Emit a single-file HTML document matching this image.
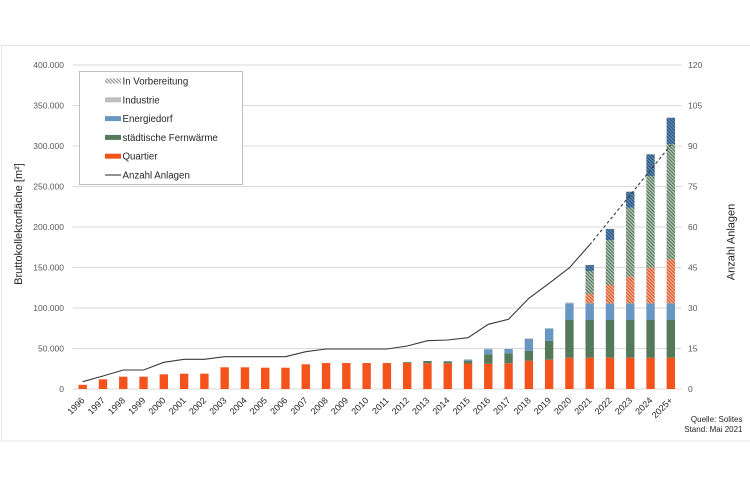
<!DOCTYPE html>
<html><head><meta charset="utf-8"><style>
html,body{margin:0;padding:0;background:#fff;}
svg{display:block;}
text{font-family:"Liberation Sans",Arial,sans-serif;}
</style></head><body>
<svg width="750" height="482" viewBox="0 0 750 482" xmlns="http://www.w3.org/2000/svg">
<defs>
<pattern id="hg" patternUnits="userSpaceOnUse" width="2.4" height="2.4" patternTransform="rotate(-45)">
<rect width="2.4" height="2.4" fill="#c3cfc4"/><rect width="1.3" height="2.4" fill="#557a5b"/></pattern>
<pattern id="hr" patternUnits="userSpaceOnUse" width="2.4" height="2.4" patternTransform="rotate(-45)">
<rect width="2.4" height="2.4" fill="#f0bda6"/><rect width="1.3" height="2.4" fill="#e0582a"/></pattern>
<pattern id="hb" patternUnits="userSpaceOnUse" width="2.4" height="2.4" patternTransform="rotate(-45)">
<rect width="2.4" height="2.4" fill="#7a9ec0"/><rect width="1.6" height="2.4" fill="#2f5a85"/></pattern>
<pattern id="hl" patternUnits="userSpaceOnUse" width="2.4" height="2.4" patternTransform="rotate(-45)">
<rect width="2.4" height="2.4" fill="#fff"/><rect width="1.1" height="2.4" fill="#8a8a8a"/></pattern>
</defs>
<rect x="0" y="0" width="750" height="482" fill="#fff"/>
<rect x="1.5" y="45.5" width="760" height="395.5" fill="none" stroke="#e6e6e6" stroke-width="1"/>
<!-- gridlines -->
<g stroke="#d9d9d9" stroke-width="1">
<line x1="72.5" y1="65" x2="682" y2="65"/>
<line x1="72.5" y1="105.5" x2="682" y2="105.5"/>
<line x1="72.5" y1="146" x2="682" y2="146"/>
<line x1="72.5" y1="186.5" x2="682" y2="186.5"/>
<line x1="72.5" y1="227" x2="682" y2="227"/>
<line x1="72.5" y1="267.5" x2="682" y2="267.5"/>
<line x1="72.5" y1="308" x2="682" y2="308"/>
<line x1="72.5" y1="348.5" x2="682" y2="348.5"/>
<line x1="72.5" y1="389" x2="682" y2="389"/>
</g>
<!-- left ticks -->
<g font-size="8.5" fill="#595959" text-anchor="end">
<text x="64" y="68">400.000</text>
<text x="64" y="108.5">350.000</text>
<text x="64" y="149">300.000</text>
<text x="64" y="189.5">250.000</text>
<text x="64" y="230">200.000</text>
<text x="64" y="270.5">150.000</text>
<text x="64" y="311">100.000</text>
<text x="64" y="351.5">50.000</text>
<text x="64" y="392">0</text>
</g>
<g font-size="8.5" fill="#595959" text-anchor="start">
<text x="688" y="68">120</text>
<text x="688" y="108.5">105</text>
<text x="688" y="149">90</text>
<text x="688" y="189.5">75</text>
<text x="688" y="230">60</text>
<text x="688" y="270.5">45</text>
<text x="688" y="311">30</text>
<text x="688" y="351.5">15</text>
<text x="688" y="392">0</text>
</g>
<!-- red bars -->
<g fill="#f4541c">
<rect x="78.5" y="384.8" width="8.4" height="4.2"/>
<rect x="98.78" y="379.3" width="8.4" height="9.7"/>
<rect x="119.06" y="376.7" width="8.4" height="12.3"/>
<rect x="139.34" y="376.7" width="8.4" height="12.3"/>
<rect x="159.62" y="374.3" width="8.4" height="14.7"/>
<rect x="179.9" y="373.7" width="8.4" height="15.3"/>
<rect x="200.18" y="373.7" width="8.4" height="15.3"/>
<rect x="220.46" y="367.3" width="8.4" height="21.7"/>
<rect x="240.74" y="367.3" width="8.4" height="21.7"/>
<rect x="261.02" y="367.7" width="8.4" height="21.3"/>
<rect x="281.3" y="367.7" width="8.4" height="21.3"/>
<rect x="301.58" y="364.3" width="8.4" height="24.7"/>
<rect x="321.86" y="363" width="8.4" height="26"/>
<rect x="342.14" y="363" width="8.4" height="26"/>
<rect x="362.42" y="363" width="8.4" height="26"/>
<rect x="382.7" y="363" width="8.4" height="26"/>
<rect x="402.98" y="363" width="8.4" height="26"/>
<rect x="423.26" y="363.3" width="8.4" height="25.7"/>
<rect x="443.54" y="363.3" width="8.4" height="25.7"/>
<rect x="463.82" y="363.5" width="8.4" height="25.5"/>
<rect x="484.1" y="363.7" width="8.4" height="25.3"/>
<rect x="504.38" y="363.3" width="8.4" height="25.7"/>
<rect x="524.66" y="360.7" width="8.4" height="28.3"/>
<rect x="544.94" y="359.7" width="8.4" height="29.3"/>
<rect x="565.22" y="357.7" width="8.4" height="31.3"/>
<rect x="585.5" y="357.7" width="8.4" height="31.3"/>
<rect x="605.78" y="357.7" width="8.4" height="31.3"/>
<rect x="626.06" y="357.7" width="8.4" height="31.3"/>
<rect x="646.34" y="357.7" width="8.4" height="31.3"/>
<rect x="666.62" y="357.7" width="8.4" height="31.3"/>
</g>
<!-- green bars -->
<g fill="#557a5b">
<rect x="402.98" y="362.2" width="8.4" height="0.8"/>
<rect x="423.26" y="361" width="8.4" height="2.3"/>
<rect x="443.54" y="361.7" width="8.4" height="1.6"/>
<rect x="463.82" y="360.7" width="8.4" height="2.8"/>
<rect x="484.1" y="354.3" width="8.4" height="9.4"/>
<rect x="504.38" y="353.3" width="8.4" height="10"/>
<rect x="524.66" y="350.7" width="8.4" height="10"/>
<rect x="544.94" y="340.7" width="8.4" height="19"/>
<rect x="565.22" y="320" width="8.4" height="37.7"/>
<rect x="585.5" y="320" width="8.4" height="37.7"/>
<rect x="605.78" y="320" width="8.4" height="37.7"/>
<rect x="626.06" y="320" width="8.4" height="37.7"/>
<rect x="646.34" y="320" width="8.4" height="37.7"/>
<rect x="666.62" y="320" width="8.4" height="37.7"/>
</g>
<!-- blue bars -->
<g fill="#6898c2">
<rect x="443.54" y="361" width="8.4" height="0.7"/>
<rect x="463.82" y="359.5" width="8.4" height="1.2"/>
<rect x="484.1" y="349.3" width="8.4" height="5"/>
<rect x="504.38" y="349" width="8.4" height="4.3"/>
<rect x="524.66" y="339" width="8.4" height="11.7"/>
<rect x="544.94" y="328.7" width="8.4" height="12"/>
<rect x="565.22" y="303.3" width="8.4" height="16.7"/>
<rect x="585.5" y="303.3" width="8.4" height="16.7"/>
<rect x="605.78" y="303.3" width="8.4" height="16.7"/>
<rect x="626.06" y="303.3" width="8.4" height="16.7"/>
<rect x="646.34" y="303.3" width="8.4" height="16.7"/>
<rect x="666.62" y="303.3" width="8.4" height="16.7"/>
</g>
<!-- industrie slivers -->
<g fill="#bfbfbf">
<rect x="484.1" y="348.6" width="8.4" height="0.7"/>
<rect x="524.66" y="338.3" width="8.4" height="0.7"/>
<rect x="544.94" y="328" width="8.4" height="0.7"/>
<rect x="565.22" y="302.5" width="8.4" height="0.8"/>
</g>
<!-- hatched red -->
<g fill="url(#hr)">
<rect x="585.5" y="294" width="8.4" height="9.3"/>
<rect x="605.78" y="285" width="8.4" height="18.3"/>
<rect x="626.06" y="276.7" width="8.4" height="26.6"/>
<rect x="646.34" y="267.7" width="8.4" height="35.6"/>
<rect x="666.62" y="259.3" width="8.4" height="44"/>
</g>
<!-- hatched green -->
<g fill="url(#hg)">
<rect x="585.5" y="271" width="8.4" height="23"/>
<rect x="605.78" y="240" width="8.4" height="45"/>
<rect x="626.06" y="207.7" width="8.4" height="69"/>
<rect x="646.34" y="176" width="8.4" height="91.7"/>
<rect x="666.62" y="144.3" width="8.4" height="115"/>
</g>
<!-- hatched blue -->
<g fill="url(#hb)">
<rect x="585.5" y="265" width="8.4" height="6"/>
<rect x="605.78" y="229" width="8.4" height="11"/>
<rect x="626.06" y="191.7" width="8.4" height="16"/>
<rect x="646.34" y="154.3" width="8.4" height="21.7"/>
<rect x="666.62" y="117.7" width="8.4" height="26.6"/>
</g>
<!-- line -->
<polyline fill="none" stroke="#3a3a3a" stroke-width="1.1" points="82.7,381.7 102.98,376 123.26,370 143.54,370 163.82,362.3 184.1,359.3 204.38,359.3 224.66,356.7 244.94,356.7 265.22,356.7 285.5,356.7 305.78,351.7 326.06,349 346.34,349 366.62,349 386.9,349 407.18,346 427.46,340.7 447.74,340 468.02,337.7 488.3,324.3 508.58,319.3 528.86,298.3 549.14,283.3 569.42,267.7 589.7,244.8"/>
<line x1="589.7" y1="244.8" x2="670.82" y2="145" stroke="#3a3a3a" stroke-width="1.1" stroke-dasharray="3,2.5"/>
<!-- x labels -->
<g font-size="9" fill="#262626" text-anchor="end">
<text transform="translate(85.2,401) rotate(-45)">1996</text>
<text transform="translate(105.48,401) rotate(-45)">1997</text>
<text transform="translate(125.76,401) rotate(-45)">1998</text>
<text transform="translate(146.04,401) rotate(-45)">1999</text>
<text transform="translate(166.32,401) rotate(-45)">2000</text>
<text transform="translate(186.6,401) rotate(-45)">2001</text>
<text transform="translate(206.88,401) rotate(-45)">2002</text>
<text transform="translate(227.16,401) rotate(-45)">2003</text>
<text transform="translate(247.44,401) rotate(-45)">2004</text>
<text transform="translate(267.72,401) rotate(-45)">2005</text>
<text transform="translate(288,401) rotate(-45)">2006</text>
<text transform="translate(308.28,401) rotate(-45)">2007</text>
<text transform="translate(328.56,401) rotate(-45)">2008</text>
<text transform="translate(348.84,401) rotate(-45)">2009</text>
<text transform="translate(369.12,401) rotate(-45)">2010</text>
<text transform="translate(389.4,401) rotate(-45)">2011</text>
<text transform="translate(409.68,401) rotate(-45)">2012</text>
<text transform="translate(429.96,401) rotate(-45)">2013</text>
<text transform="translate(450.24,401) rotate(-45)">2014</text>
<text transform="translate(470.52,401) rotate(-45)">2015</text>
<text transform="translate(490.8,401) rotate(-45)">2016</text>
<text transform="translate(511.08,401) rotate(-45)">2017</text>
<text transform="translate(531.36,401) rotate(-45)">2018</text>
<text transform="translate(551.64,401) rotate(-45)">2019</text>
<text transform="translate(571.92,401) rotate(-45)">2020</text>
<text transform="translate(592.2,401) rotate(-45)">2021</text>
<text transform="translate(612.48,401) rotate(-45)">2022</text>
<text transform="translate(632.76,401) rotate(-45)">2023</text>
<text transform="translate(653.04,401) rotate(-45)">2024</text>
<text transform="translate(673.32,401) rotate(-45)">2025+</text>
</g>
<!-- axis titles -->
<text transform="translate(22,224) rotate(-90)" font-size="11" fill="#262626" text-anchor="middle">Bruttokollektorfläche [m²]</text>
<text transform="translate(734.5,242) rotate(-90)" font-size="11" fill="#262626" text-anchor="middle">Anzahl Anlagen</text>
<!-- legend -->
<rect x="79.5" y="71.5" width="163" height="113" fill="#fff" stroke="#bfbfbf" stroke-width="1"/>
<rect x="105" y="78.5" width="16" height="5" fill="url(#hl)"/>
<rect x="105" y="97.3" width="16" height="5" fill="#bfbfbf"/>
<rect x="105" y="116.1" width="16" height="5" fill="#6898c2"/>
<rect x="105" y="134.9" width="16" height="5" fill="#557a5b"/>
<rect x="105" y="153.7" width="16" height="5" fill="#f4541c"/>
<line x1="105" y1="175" x2="121" y2="175" stroke="#3a3a3a" stroke-width="1.1"/>
<g font-size="9.7" fill="#262626">
<text x="122.5" y="84.5">In Vorbereitung</text>
<text x="122.5" y="103.3">Industrie</text>
<text x="122.5" y="122.1">Energiedorf</text>
<text x="122.5" y="140.9">städtische Fernwärme</text>
<text x="122.5" y="159.7">Quartier</text>
<text x="122.5" y="178.5">Anzahl Anlagen</text>
</g>
<!-- source -->
<g font-size="8" fill="#262626" text-anchor="end">
<text x="742.5" y="422">Quelle: Solites</text>
<text x="742.5" y="432">Stand: Mai 2021</text>
</g>
</svg>
</body></html>
